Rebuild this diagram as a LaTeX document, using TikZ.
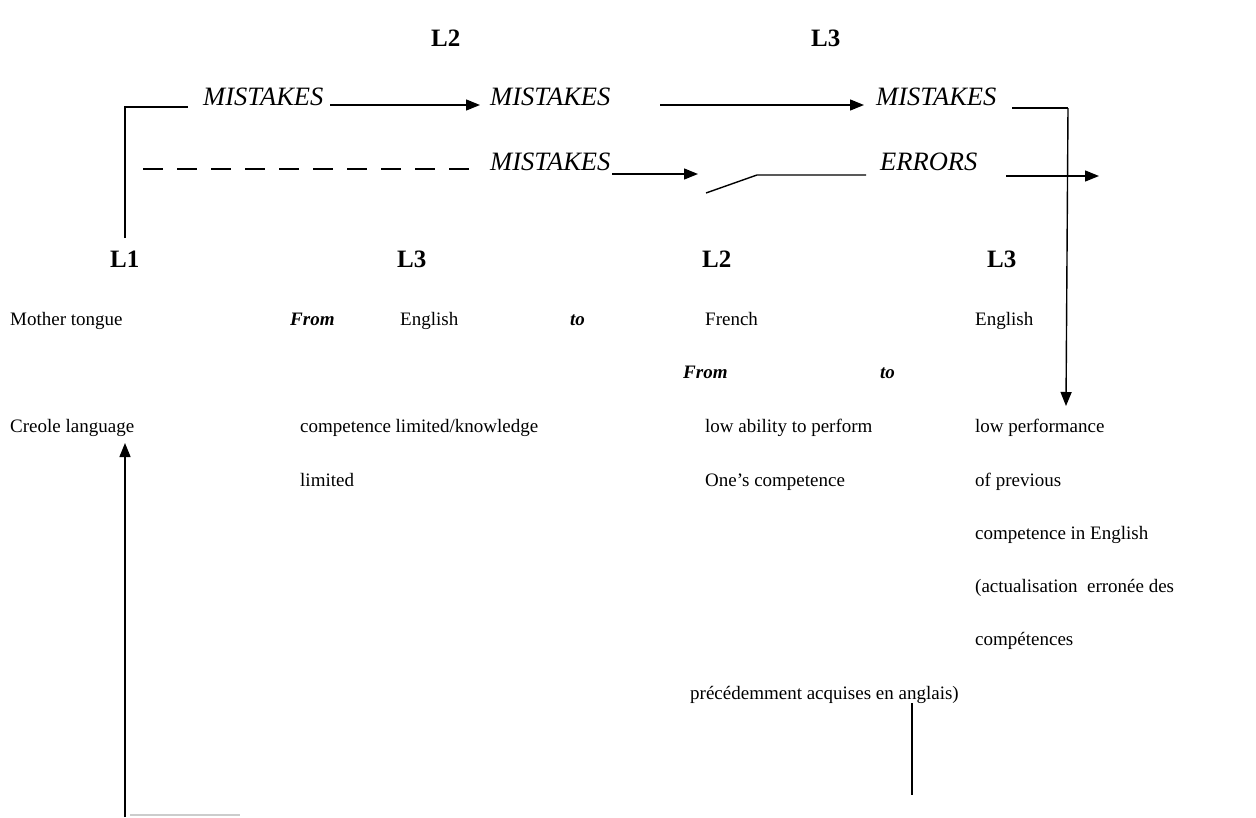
\documentclass[tikz,border=0pt]{standalone}
\usepackage{fontspec}
\setmainfont{Liberation Serif}
\usetikzlibrary{arrows.meta}
\begin{document}
\begin{tikzpicture}[x=1pt,y=-1pt,
  txt/.style={anchor=base west,inner sep=0pt,font=\fontsize{19}{23}\selectfont},
  lab/.style={anchor=base west,inner sep=0pt,font=\fontsize{25}{30}\selectfont\bfseries},
  mis/.style={anchor=base west,inner sep=0pt,font=\fontsize{26.5}{30}\selectfont\itshape},
  conn/.style={anchor=base west,inner sep=0pt,font=\fontsize{19}{23}\selectfont\bfseries\itshape},
  ln/.style={line width=1.4pt},
  arr/.style={line width=1.4pt,-{Triangle[length=14pt,width=11pt]}}]
\useasboundingbox (0,0) rectangle (1256,817);
% top labels
\node[lab] (tL2) at (431,46) {L2};
\node[lab] (tL3) at (811,46) {L3};
% row 1
\node[mis] (m1) at (203,105) {MISTAKES};
\node[mis] (m2) at (490,105) {MISTAKES};
\node[mis] (m3) at (876,105) {MISTAKES};
% row 2
\node[mis] (m4) at (490,170) {MISTAKES};
\node[mis] (er) at (880,170) {ERRORS};
% row 3
\node[lab] (L1) at (110,267) {L1};
\node[lab] (L3a) at (397,267) {L3};
\node[lab] (L2) at (702,267) {L2};
\node[lab] (L3b) at (987,267) {L3};
% row 4
\node[txt] (mt) at (10,325) {Mother tongue};
\node[conn] (from1) at (290,325) {From};
\node[txt] (en1) at (400,325) {English};
\node[conn] (to1) at (570,325) {to};
\node[txt] (fr) at (705,325) {French};
\node[txt] (en2) at (975,325) {English};
% row 5
\node[conn] (from2) at (683,378) {From};
\node[conn] (to2) at (880,378) {to};
% row 6
\node[txt] (cr) at (10,432) {Creole language};
\node[txt] (cl) at (300,432) {competence limited/knowledge};
\node[txt] (la) at (705,432) {low ability to perform};
\node[txt] (lp) at (975,432) {low performance};
% row 7
\node[txt] (lim) at (300,486) {limited};
\node[txt] (oc) at (705,486) {One’s competence};
\node[txt] (op) at (975,486) {of previous};
% rows 8-11
\node[txt] (ce) at (975,539) {competence in English};
\node[txt] (ac) at (975,592) {(actualisation\ \ erronée des};
\node[txt] (cp) at (975,645) {compétences};
\node[txt] (pr) at (690,699) {précédemment acquises en anglais)};
% coordinates
\coordinate (b1) at (125,238);
\coordinate (b2) at (125,107);
\coordinate (b3) at (188,107);
\coordinate (a1s) at (330,105);
\coordinate (a1e) at (480,105);
\coordinate (a2s) at (660,105);
\coordinate (a2e) at (864,105);
\coordinate (t1) at (1012,108);
\coordinate (t2) at (1068,108);
\coordinate (t3) at (1066,406);
\coordinate (d1) at (143,169);
\coordinate (d2) at (481,169);
\coordinate (a3s) at (612,174);
\coordinate (a3e) at (698,174);
\coordinate (s1) at (706,193);
\coordinate (s2) at (757,175);
\coordinate (s3) at (866,175);
\coordinate (a4s) at (1006,176);
\coordinate (a4e) at (1099,176);
\coordinate (v1) at (125,817);
\coordinate (v2) at (125,443);
\coordinate (r1) at (912,703);
\coordinate (r2) at (912,795);
\coordinate (g1) at (130,815);
\coordinate (g2) at (240,815);
% connectors
\draw[ln] (b1) -- (b2) -- (b3);
\draw[arr] (a1s) -- (a1e);
\draw[arr] (a2s) -- (a2e);
\draw[line width=2.8pt] (t1) -- (t2);
\draw[arr] (t2) -- (t3);
\draw[ln,dash pattern=on 20pt off 14pt] (d1) -- (d2);
\draw[arr] (a3s) -- (a3e);
\draw[ln] (s1) -- (s2) -- (s3);
\draw[arr] (a4s) -- (a4e);
\draw[arr] (v1) -- (v2);
\draw[ln] (r1) -- (r2);
\draw[line width=1.5pt,black!20] (g1) -- (g2);
\end{tikzpicture}
\end{document}
